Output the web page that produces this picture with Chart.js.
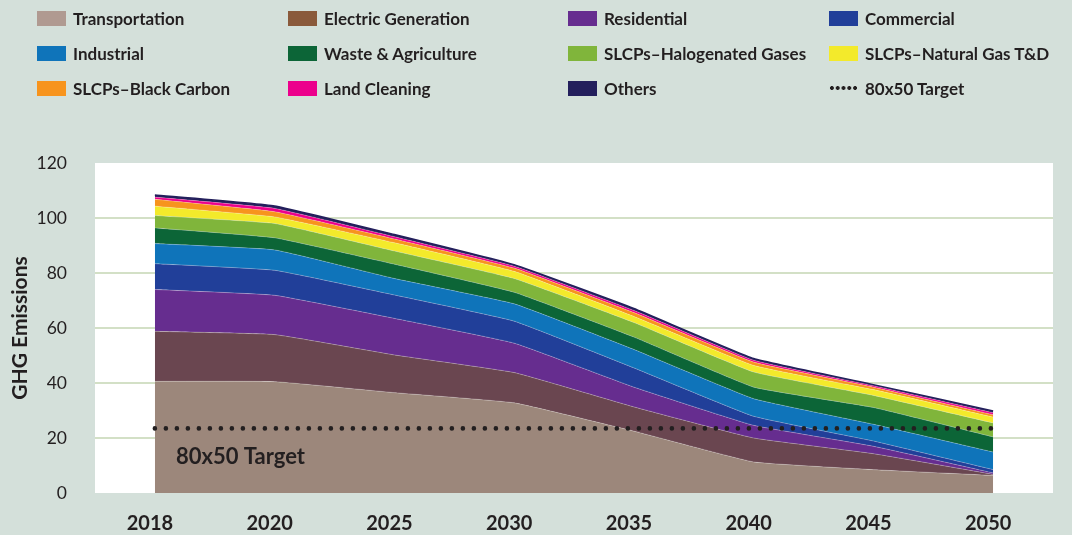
<!DOCTYPE html>
<html>
<head>
<meta charset="utf-8">
<script src="https://cdn.jsdelivr.net/npm/chart.js@4"></script>
<style>
  html, body { margin: 0; padding: 0; background: #d4e0da; }
  #wrap { position: relative; width: 1072px; height: 535px; }
  #legend { position: absolute; left: 37px; top: 0; font: bold 17px Lato, sans-serif; color: #231f20; }
  .item { position: absolute; height: 20px; display: flex; align-items: center; white-space: nowrap; }
  .box { width: 29px; height: 15px; margin-right: 7px; flex: none; }
  .dots { width: 29px; height: 6px; margin-right: 7px; flex: none;
    background: radial-gradient(circle, #231f20 1.7px, transparent 2.2px) 0 50% / 5.8px 6px repeat-x; }
</style>
</head>
<body>
<div id="wrap">
  <canvas id="myChart" width="1072" height="535"></canvas>
  <div id="legend"></div>
</div>
<script>
const years = ["2018", "2020", "2025", "2030", "2035", "2040", "2045", "2050"];

// layer thickness per sector
const transportation     = [40.6, 40.5, 36.5, 32.8, 22.5, 11.3, 8.5, 6.4];
const electricGeneration = [18.2, 17.1, 13.7, 11.0, 8.8, 8.7, 5.8, 0.4];
const residential        = [15.2, 14.3, 13.3, 10.7, 7.2, 4.6, 2.7, 0.5];
const commercial         = [9.4, 9.1, 8.5, 8.0, 7.0, 3.3, 1.9, 1.2];
const industrial         = [7.3, 7.4, 6.0, 6.3, 6.7, 6.4, 6.1, 6.4];
const wasteAgriculture   = [5.7, 4.4, 5.2, 4.2, 4.5, 4.2, 6.1, 5.5];
const halogenatedGases   = [4.5, 5.2, 4.8, 5.0, 5.3, 5.5, 4.4, 5.1];
const naturalGasTD       = [3.4, 2.4, 3.0, 2.6, 2.2, 2.4, 2.1, 2.1];
const blackCarbon        = [2.5, 1.9, 1.4, 1.2, 1.4, 1.2, 0.9, 0.9];
const landCleaning       = [0.8, 1.2, 0.8, 0.7, 0.8, 0.7, 0.5, 0.7];
const others             = [0.8, 0.9, 0.8, 0.5, 0.7, 0.6, 0.4, 0.6];
const target             = [23.5, 23.5, 23.5, 23.5, 23.5, 23.5, 23.5, 23.5];

const sectors = [
  { label: "Transportation", data: transportation, color: "#9c877b", legend: "#b09a91" },
  { label: "Electric Generation", data: electricGeneration, color: "#6a4650", legend: "#8a5a3b" },
  { label: "Residential", data: residential, color: "#662d8f" },
  { label: "Commercial", data: commercial, color: "#213f99" },
  { label: "Industrial", data: industrial, color: "#0f74ba" },
  { label: "Waste & Agriculture", data: wasteAgriculture, color: "#0c6537" },
  { label: "SLCPs–Halogenated Gases", data: halogenatedGases, color: "#80b53b" },
  { label: "SLCPs–Natural Gas T&D", data: naturalGasTD, color: "#f3ea2b" },
  { label: "SLCPs–Black Carbon", data: blackCarbon, color: "#f7941d" },
  { label: "Land Cleaning", data: landCleaning, color: "#ec008c" },
  { label: "Others", data: others, color: "#231f5c" },
];

const datasets = [
  {
    label: "80x50 Target",
    data: target,
    stack: "target",
    borderColor: "#231f20",
    borderWidth: 4.6,
    borderDash: [0, 11],
    borderCapStyle: "round",
    pointRadius: 0,
    fill: false,
  },
];
sectors.forEach((s, i) => {
  datasets.push({
    label: s.label,
    data: s.data,
    stack: "ghg",
    backgroundColor: s.color,
    borderColor: i == sectors.length - 1 ? s.color : "rgba(255,255,255,0.3)",
    borderWidth: i == sectors.length - 1 ? 1.5 : 0.8,
    pointRadius: 0,
    tension: 0.1,
    fill: i == 0 ? "origin" : "-1",
  });
});

const plotBackground = {
  id: "plotBackground",
  beforeDraw(chart) {
    const { ctx, chartArea: a } = chart;
    ctx.save();
    ctx.fillStyle = "#ffffff";
    ctx.fillRect(a.left, a.top, a.right - a.left, a.bottom - a.top);
    ctx.restore();
  },
  afterDraw(chart) {
    const { ctx, scales } = chart;
    ctx.save();
    ctx.font = "bold 22px Lato";
    ctx.fillStyle = "#231f20";
    ctx.textBaseline = "middle";
    ctx.fillText("80x50 Target", scales.x.getPixelForValue(0) + 21, scales.y.getPixelForValue(23.5) + 29);
    ctx.restore();
  },
};

const ctx = document.getElementById("myChart");

const chart = new Chart(ctx, {
  type: "line",
  data: { labels: years, datasets: datasets },
  plugins: [plotBackground],
  options: {
    responsive: false,
    animation: false,
    layout: { padding: { top: 163, right: 19, bottom: 0, left: 0 } },
    plugins: {
      legend: { display: false },
      tooltip: { enabled: false },
    },
    scales: {
      x: {
        offset: true,
        grid: { display: false },
        border: { display: false },
        afterFit: (s) => { s.height = 42; },
        ticks: {
          color: "#231f20",
          font: { family: "Lato", size: 20, weight: "bold" },
          padding: 11,
          labelOffset: -5,
        },
      },
      y: {
        stacked: true,
        min: 0,
        max: 120,
        afterFit: (s) => { s.width = 95; },
        border: { display: false },
        grid: {
          drawTicks: false,
          lineWidth: 2,
          color: (c) => (c.tick && (c.tick.value == 0 || c.tick.value == 120) ? "rgba(0,0,0,0)" : "#d3e0c6"),
        },
        ticks: {
          stepSize: 20,
          color: "#231f20",
          font: { family: "Lato", size: 17.5 },
          padding: 28,
        },
        title: {
          display: true,
          text: "GHG Emissions",
          color: "#231f20",
          font: { family: "Lato", size: 21, weight: "bold" },
          padding: { top: 8, bottom: 0 },
        },
      },
    },
  },
});

// legend in four columns, row by row like the original
const legendCols = [0, 251, 531, 792];
const legendRows = [8, 43, 78];
const legendEl = document.getElementById("legend");
const legendItems = sectors.map((s) => ({ label: s.label, color: s.legend || s.color }));
legendItems.push({ label: "80x50 Target", dots: true });
legendItems.forEach((it, i) => {
  const div = document.createElement("div");
  div.className = "item";
  div.style.left = legendCols[i % 4] + "px";
  div.style.top = legendRows[Math.floor(i / 4)] + "px";
  const mark = document.createElement("span");
  if (it.dots) {
    mark.className = "dots";
  } else {
    mark.className = "box";
    mark.style.background = it.color;
  }
  div.appendChild(mark);
  div.appendChild(document.createTextNode(it.label));
  legendEl.appendChild(div);
});
</script>
</body>
</html>
